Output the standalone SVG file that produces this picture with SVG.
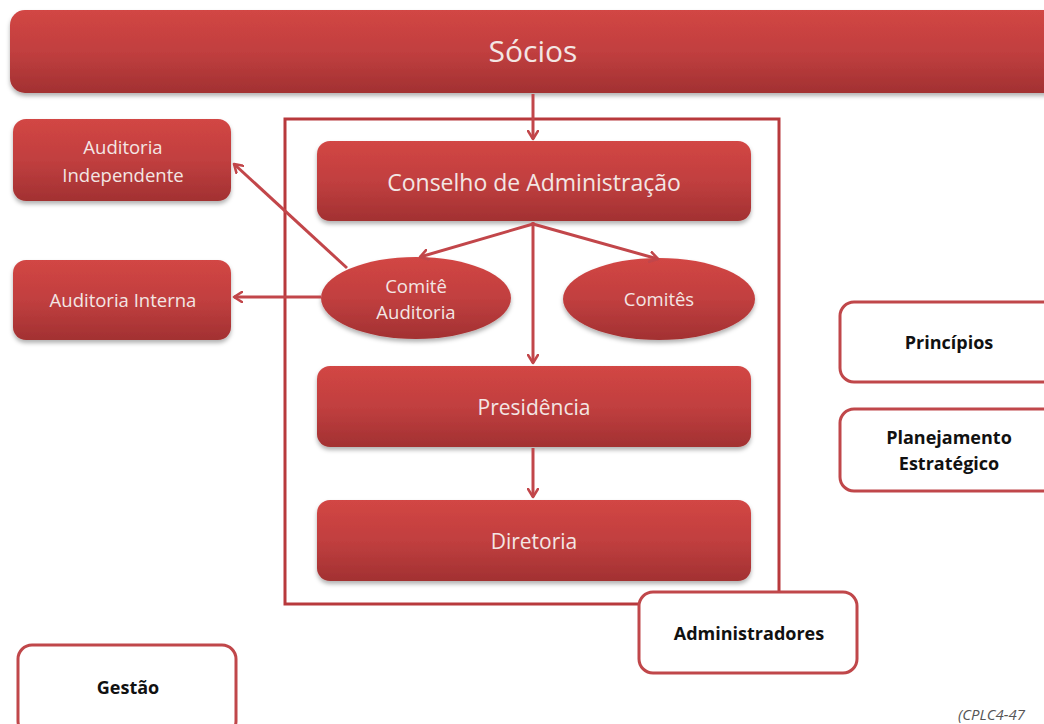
<svg xmlns="http://www.w3.org/2000/svg" width="1044" height="724" viewBox="0 0 1044 724">
<defs>
<linearGradient id="rg" x1="0" y1="0" x2="0" y2="1">
<stop offset="0" stop-color="#d24644"/>
<stop offset="0.5" stop-color="#c13f3f"/>
<stop offset="1" stop-color="#a23132"/>
</linearGradient>
<filter id="sh" x="-10%" y="-10%" width="120%" height="130%">
<feDropShadow dx="0" dy="3" stdDeviation="2" flood-color="#000" flood-opacity="0.3"/>
</filter>
<marker id="ah" markerWidth="12" markerHeight="12" refX="9" refY="6" orient="auto" markerUnits="userSpaceOnUse" viewBox="0 0 12 12">
<path d="M1,1 L9,6 L1,11" fill="none" stroke="#c2464a" stroke-width="2.6" stroke-linejoin="round" stroke-linecap="round"/>
</marker>
</defs>
<style>
.red{fill:url(#rg);filter:url(#sh)}
.wt{fill:#f3e6e4;font-family:"Open Sans","Liberation Sans",sans-serif;text-anchor:middle}
.wb{fill:#ffffff;stroke:#c0474a;stroke-width:3}
.bt{fill:#111;font-family:"Open Sans","Liberation Sans",sans-serif;font-weight:bold;text-anchor:middle;font-size:18px}
.cn{fill:none;stroke:#c2464a;stroke-width:3}
</style>
<rect width="1044" height="724" fill="#ffffff"/>

<g id="container">
<rect x="285" y="119" width="494" height="485" fill="none" stroke="#b8393c" stroke-width="3"/>
</g>

<g id="socios">
<rect class="red" x="10" y="10" width="1050" height="83" rx="15"/>
<text class="wt" x="533" y="62" font-size="30">Sócios</text>
</g>

<g id="conselho">
<rect class="red" x="317" y="141" width="434" height="80" rx="13"/>
<text class="wt" x="534" y="191" font-size="23">Conselho de Administração</text>
</g>

<g id="aud-indep">
<rect class="red" x="13" y="119" width="218" height="82" rx="13"/>
<text class="wt" x="123" y="154" font-size="18.5">Auditoria</text>
<text class="wt" x="123" y="182" font-size="18.5">Independente</text>
</g>

<g id="aud-interna">
<rect class="red" x="13" y="260" width="218" height="80" rx="13"/>
<text class="wt" x="123" y="307" font-size="18.5">Auditoria Interna</text>
</g>

<g id="comite-auditoria">
<ellipse class="red" cx="416" cy="298" rx="95" ry="41"/>
<text class="wt" x="416" y="293" font-size="18.5">Comitê</text>
<text class="wt" x="416" y="319" font-size="18.5">Auditoria</text>
</g>

<g id="comites">
<ellipse class="red" cx="659" cy="299" rx="96" ry="41"/>
<text class="wt" x="659" y="306" font-size="18.5">Comitês</text>
</g>

<g id="presidencia">
<rect class="red" x="317" y="366" width="434" height="81" rx="13"/>
<text class="wt" x="534" y="415" font-size="21">Presidência</text>
</g>

<g id="diretoria">
<rect class="red" x="317" y="500" width="434" height="81" rx="13"/>
<text class="wt" x="534" y="549" font-size="21">Diretoria</text>
</g>

<g id="principios">
<rect class="wb" x="840" y="302" width="220" height="80" rx="14"/>
<text class="bt" x="949" y="349">Princípios</text>
</g>

<g id="planejamento">
<rect class="wb" x="840" y="409" width="220" height="82" rx="14"/>
<text class="bt" x="949" y="444">Planejamento</text>
<text class="bt" x="949" y="470">Estratégico</text>
</g>

<g id="administradores">
<rect class="wb" x="639" y="592" width="218" height="81" rx="14"/>
<text class="bt" x="749" y="640">Administradores</text>
</g>

<g id="gestao">
<rect class="wb" x="18" y="645" width="218" height="90" rx="14"/>
<text class="bt" x="128" y="694">Gestão</text>
</g>

<g id="connectors">
<line class="cn" x1="533" y1="94" x2="533" y2="139" marker-end="url(#ah)"/>
<line class="cn" x1="533" y1="222" x2="533" y2="363" marker-end="url(#ah)"/>
<line class="cn" x1="533" y1="224" x2="420" y2="257" marker-end="url(#ah)"/>
<line class="cn" x1="533" y1="224" x2="658" y2="259" marker-end="url(#ah)"/>
<line class="cn" x1="533" y1="448" x2="533" y2="497" marker-end="url(#ah)"/>
<line class="cn" x1="347" y1="268" x2="234" y2="164" marker-end="url(#ah)"/>
<line class="cn" x1="321" y1="297" x2="234" y2="297" marker-end="url(#ah)"/>
</g>

<text x="958" y="720" font-family="Open Sans, Liberation Sans, sans-serif" font-style="italic" font-size="15" fill="#555">(CPLC4-47</text>
</svg>
